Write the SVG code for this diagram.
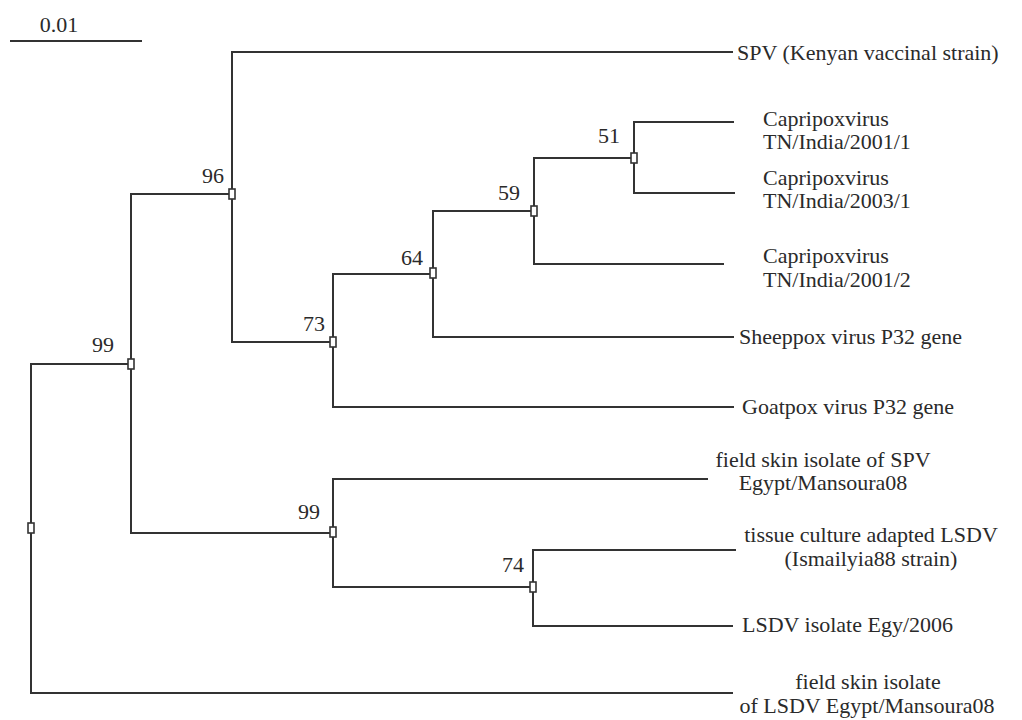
<svg xmlns="http://www.w3.org/2000/svg" width="1022" height="720" viewBox="0 0 1022 720">
<style>
.br{fill:none;stroke:#333;stroke-width:2;stroke-linecap:square}
.nd{fill:#fff;stroke:#333;stroke-width:1.6}
text{font-family:"Liberation Serif","Times New Roman",serif;font-size:22px;fill:#2a2a2a}
.bs{text-anchor:end}
.c{text-anchor:middle}
</style>
<rect width="1022" height="720" fill="#fff"/>
<g id="scale">
<line class="br" x1="11" y1="41" x2="141" y2="41"/>
<text x="59" y="32" class="c">0.01</text>
</g>
<g id="connectors">
<path class="br" d="M31,364V693H732"/>
<path class="br" d="M31,364H131"/>
<path class="br" d="M131,194V533"/>
<path class="br" d="M131,194H232"/>
<path class="br" d="M131,533H333"/>
<path class="br" d="M232,52V342"/>
<path class="br" d="M232,52H732"/>
<path class="br" d="M232,342H333"/>
<path class="br" d="M333,274V407H733"/>
<path class="br" d="M333,274H433"/>
<path class="br" d="M433,211V337H733"/>
<path class="br" d="M433,211H534"/>
<path class="br" d="M534,158V264H723"/>
<path class="br" d="M534,158H634"/>
<path class="br" d="M634,122V193H734"/>
<path class="br" d="M634,122H733"/>
<path class="br" d="M333,479V587H533"/>
<path class="br" d="M333,479H707"/>
<path class="br" d="M533,550V626H732"/>
<path class="br" d="M533,550H735"/>
</g>
<g id="node-root"><rect class="nd" x="28" y="523" width="6" height="10"/></g>
<g id="node-99a"><rect class="nd" x="128" y="359" width="6" height="10"/><text x="114" y="352" class="bs">99</text></g>
<g id="node-96"><rect class="nd" x="229" y="189" width="6" height="10"/><text x="224" y="183" class="bs">96</text></g>
<g id="node-73"><rect class="nd" x="330" y="337" width="6" height="10"/><text x="325" y="331" class="bs">73</text></g>
<g id="node-64"><rect class="nd" x="430" y="268" width="6" height="10"/><text x="423" y="265" class="bs">64</text></g>
<g id="node-59"><rect class="nd" x="531" y="206" width="6" height="10"/><text x="520" y="200" class="bs">59</text></g>
<g id="node-51"><rect class="nd" x="631" y="153" width="6" height="10"/><text x="620" y="143" class="bs">51</text></g>
<g id="node-99b"><rect class="nd" x="330" y="527" width="6" height="10"/><text x="320" y="519" class="bs">99</text></g>
<g id="node-74"><rect class="nd" x="530" y="582" width="6" height="10"/><text x="524" y="572" class="bs">74</text></g>
<g id="leaf-spv"><text x="737" y="60">SPV (Kenyan vaccinal strain)</text></g>
<g id="leaf-cap1"><text x="763" y="126">Capripoxvirus</text><text x="763" y="149">TN/India/2001/1</text></g>
<g id="leaf-cap2"><text x="763" y="185">Capripoxvirus</text><text x="763" y="208">TN/India/2003/1</text></g>
<g id="leaf-cap3"><text x="763" y="263">Capripoxvirus</text><text x="763" y="287">TN/India/2001/2</text></g>
<g id="leaf-sheeppox"><text x="739" y="344">Sheeppox virus P32 gene</text></g>
<g id="leaf-goatpox"><text x="742" y="414">Goatpox virus P32 gene</text></g>
<g id="leaf-fieldspv"><text x="823" y="467" class="c">field skin isolate of SPV</text><text x="823" y="490" class="c">Egypt/Mansoura08</text></g>
<g id="leaf-tissue"><text x="871" y="542" class="c">tissue culture adapted LSDV</text><text x="871" y="566" class="c">(Ismailyia88 strain)</text></g>
<g id="leaf-lsdvegy"><text x="742" y="632">LSDV isolate Egy/2006</text></g>
<g id="leaf-fieldlsdv"><text x="868" y="689" class="c">field skin isolate</text><text x="867" y="713" class="c">of LSDV Egypt/Mansoura08</text></g>
</svg>
